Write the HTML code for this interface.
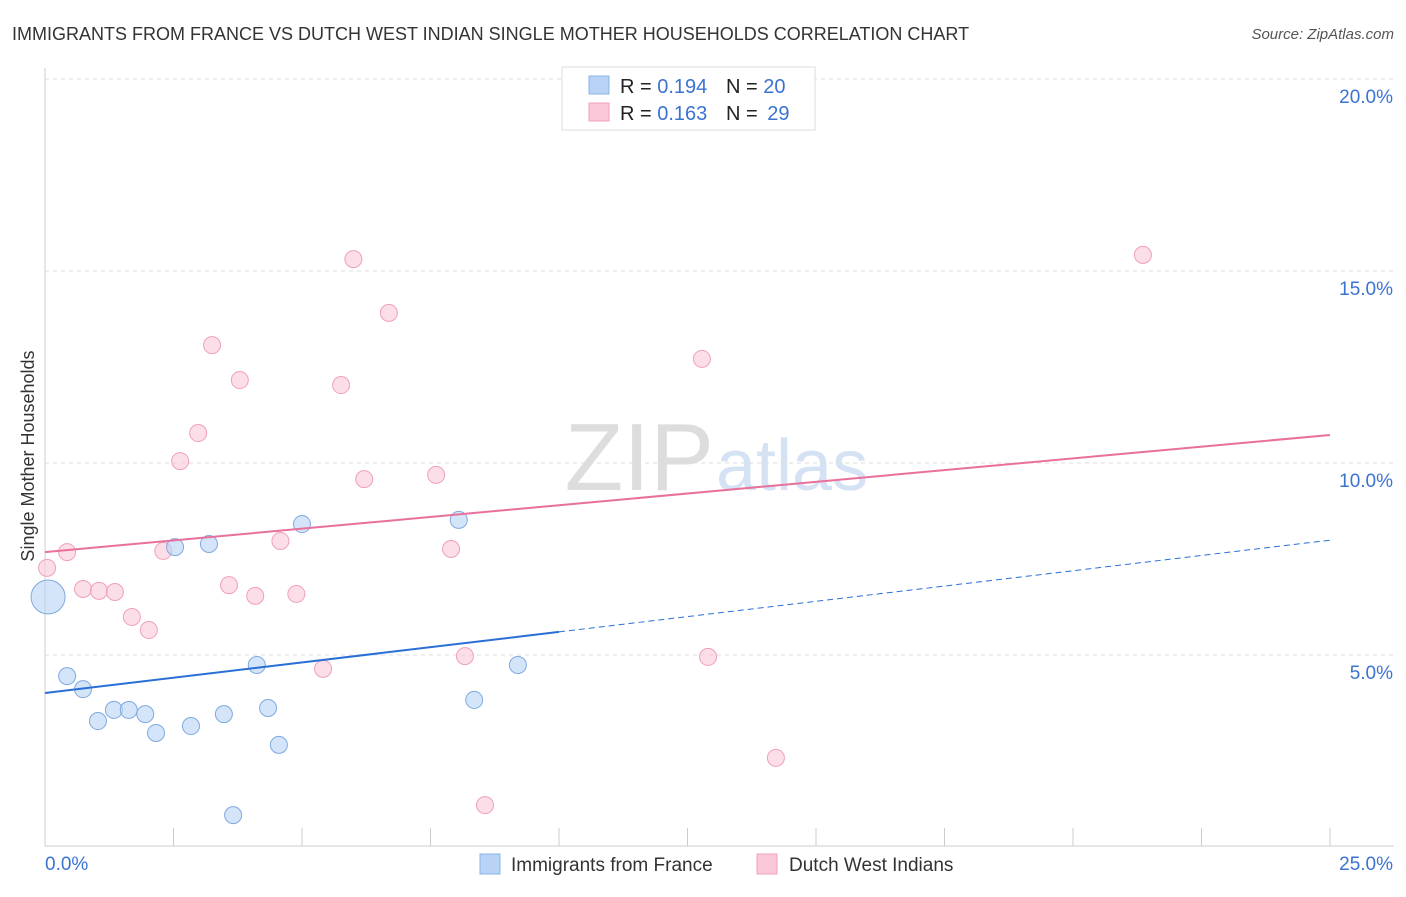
<!DOCTYPE html>
<html><head><meta charset="utf-8"><style>
body{margin:0;background:#fff;font-family:"Liberation Sans",sans-serif;}
svg text{font-family:"Liberation Sans",sans-serif;}
</style></head><body>
<svg id="chart" width="1406" height="892">
<text x="12" y="40" font-size="18" fill="#333">IMMIGRANTS FROM FRANCE VS DUTCH WEST INDIAN SINGLE MOTHER HOUSEHOLDS CORRELATION CHART</text>
<text x="1394" y="39" font-size="15" fill="#555" font-style="italic" text-anchor="end">Source: ZipAtlas.com</text>
<text x="714" y="490" font-size="96" fill="#ddd" text-anchor="end" font-family="Liberation Serif">ZIP</text>
<text x="716" y="490" font-size="72" fill="#d4e2f3">atlas</text>
<text transform="translate(34,456) rotate(-90)" font-size="18" fill="#333" text-anchor="middle">Single Mother Households</text>
<g id="grid"></g><g id="marks"></g>
<g>
<rect x="562" y="67" width="253" height="63" fill="#fff" stroke="#ddd"/>
<rect x="589" y="76" width="20" height="18" fill="#b8d3f5" stroke="#8ab4e8"/>
<rect x="589" y="103" width="20" height="18" fill="#fac8d8" stroke="#f0a0bb"/>
<text x="620" y="93" font-size="20" fill="#222">R = <tspan fill="#3b73d1">0.194</tspan></text>
<text x="726" y="93" font-size="20" fill="#222">N = <tspan fill="#3b73d1">20</tspan></text>
<text x="620" y="120" font-size="20" fill="#222">R = <tspan fill="#3b73d1">0.163</tspan></text>
<text x="726" y="120" font-size="20" fill="#222">N = <tspan fill="#3b73d1" dx="4">29</tspan></text>
</g>
<g>
<rect x="480" y="854" width="20" height="20" fill="#b8d3f5" stroke="#8ab4e8"/>
<text x="511" y="871" font-size="19" fill="#333">Immigrants from France</text>
<rect x="757" y="854" width="20" height="20" fill="#fac8d8" stroke="#f0a0bb"/>
<text x="789" y="871" font-size="19" fill="#333">Dutch West Indians</text>
</g>
</svg>
<script>
const yTicks=[5,10,15,20];
const yTickLabels=["5.0%","10.0%","15.0%","20.0%"];
const franceX=[0.06,0.43,0.74,1.03,1.34,1.63,1.95,2.16,2.53,2.84,3.19,3.48,3.66,4.12,4.34,4.55,5.0,8.05,8.35,9.2];
const franceY=[6.51,4.45,4.11,3.28,3.57,3.57,3.46,2.97,7.81,3.15,7.89,3.46,0.83,4.74,3.62,2.66,8.41,8.52,3.83,4.74];
const dutchX=[0.04,0.43,0.74,1.05,1.36,1.69,2.02,2.3,2.63,2.98,3.25,3.58,3.79,4.09,4.58,4.89,5.41,5.76,6.0,6.21,6.69,7.61,7.9,8.17,8.56,12.78,12.9,14.22,21.36];
const dutchY=[7.27,7.68,6.72,6.67,6.64,5.99,5.65,7.71,10.05,10.78,13.07,6.82,12.16,6.54,7.97,6.59,4.64,12.03,15.31,9.58,13.91,9.69,7.76,4.97,1.09,12.71,4.95,2.32,15.42];
const franceTrend=[4.01,7.99];
const dutchTrend=[7.68,10.73];
(function(){
const ns="http://www.w3.org/2000/svg";
const X=v=>45+v*51.4, Y=v=>847-v*38.4;
function mk(t,a,p){const e=document.createElementNS(ns,t);for(const k in a)e.setAttribute(k,a[k]);p.appendChild(e);return e;}
const g=document.getElementById('grid'), m=document.getElementById('marks');
yTicks.forEach((t,i)=>{
 const l=mk('line',{x1:45,x2:1394,y1:Y(t),y2:Y(t),stroke:'#ddd','stroke-dasharray':'4,4'},g);
 
 
 const tx=mk('text',{x:1393,y:Y(t)+24,'font-size':19,fill:'#3b73d1','text-anchor':'end'},g);tx.textContent=yTickLabels[i];
 
 
});
mk('line',{x1:45,x2:1394,y1:79,y2:79,stroke:'#ddd','stroke-dasharray':'4,4'},g);
mk('line',{x1:45,x2:45,y1:68,y2:846,stroke:'#ccc'},g);
mk('line',{x1:45,x2:1394,y1:846,y2:846,stroke:'#ccc'},g);
for(let i=0;i<=10;i++){const l=mk('line',{x1:X(i*2.5),x2:X(i*2.5),y1:828,y2:846,stroke:'#ccc'},g);
 
 }
const xl0=mk('text',{x:45,y:870,'font-size':19,fill:'#3b73d1'},g);xl0.textContent='0.0%';
const xl1=mk('text',{x:1393,y:870,'font-size':19,fill:'#3b73d1','text-anchor':'end'},g);xl1.textContent='25.0%';
function pts(xs,ys,fill,stroke,name){xs.forEach((x,i)=>{const r=(name==='france-point'&&i===0)?17:8.5;
 const c=mk('circle',{cx:X(x),cy:Y(ys[i]),r:r,fill:fill,stroke:stroke,'stroke-width':1,'fill-opacity':0.6},m);
 
 });}
pts(dutchX,dutchY,'#fac8d8','#f0a0bb','dutch-point');
pts(franceX,franceY,'#b8d3f5','#7fa9e0','france-point');
const fMid=franceTrend[0]+(franceTrend[1]-franceTrend[0])*10/25;
const fl=mk('line',{x1:X(0),y1:Y(franceTrend[0]),x2:X(10),y2:Y(fMid),stroke:'#2a6fd6','stroke-width':2},m);


const fd=mk('line',{x1:X(10),y1:Y(fMid),x2:X(25),y2:Y(franceTrend[1]),stroke:'#2a6fd6','stroke-width':1,'stroke-dasharray':'6,4'},m);


const dl=mk('line',{x1:X(0),y1:Y(dutchTrend[0]),x2:X(25),y2:Y(dutchTrend[1]),stroke:'#e8709a','stroke-width':2},m);


})();
</script>
</body></html>
